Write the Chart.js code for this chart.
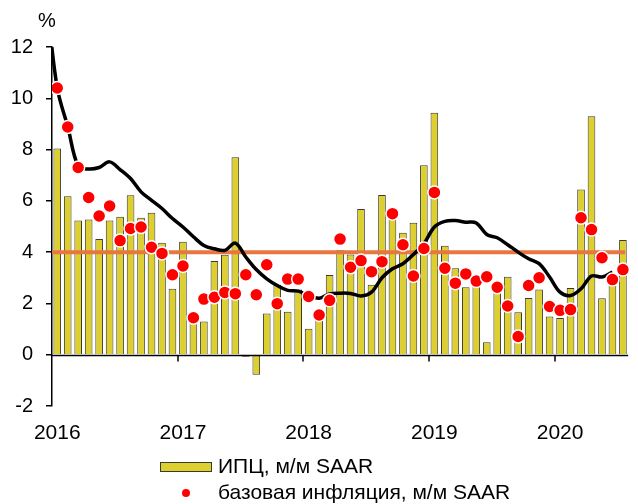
<!DOCTYPE html>
<html>
<head>
<meta charset="utf-8">
<script src="https://cdn.jsdelivr.net/npm/chart.js@4/dist/chart.umd.min.js"></script>
<style>
    html, body { margin: 0; padding: 0; background: #fff; }
    #wrap { width: 638px; height: 504px; position: relative; }
</style>
</head>
<body>
<div id="wrap"><canvas id="chart" width="638" height="504"></canvas></div>
<script>
// месяцы: 2015-12 нужен только для начала линии тренда у левого края
const months = [
    '2015-12',
    '2016-01', '2016-02', '2016-03', '2016-04', '2016-05', '2016-06', '2016-07', '2016-08', '2016-09', '2016-10', '2016-11', '2016-12',
    '2017-01', '2017-02', '2017-03', '2017-04', '2017-05', '2017-06', '2017-07', '2017-08', '2017-09', '2017-10', '2017-11', '2017-12',
    '2018-01', '2018-02', '2018-03', '2018-04', '2018-05', '2018-06', '2018-07', '2018-08', '2018-09', '2018-10', '2018-11', '2018-12',
    '2019-01', '2019-02', '2019-03', '2019-04', '2019-05', '2019-06', '2019-07', '2019-08', '2019-09', '2019-10', '2019-11', '2019-12',
    '2020-01', '2020-02', '2020-03', '2020-04', '2020-05', '2020-06', '2020-07'
]

// ИПЦ, м/м SAAR (2016-01 .. 2020-07)
const cpi = [
    8.04, 6.18, 5.23, 5.27, 4.51, 5.23, 5.38, 6.22, 5.34, 5.54, 4.37, 2.57,
    4.41, 1.25, 1.30, 3.65, 3.90, 7.70, -0.08, -0.78, 1.61, 2.73, 1.68, 2.54,
    1.01, 1.75, 3.11, 4.07, 3.91, 5.68, 2.73, 6.23, 5.45, 4.76, 5.15, 7.39,
    9.44, 4.25, 3.37, 2.63, 3.12, 0.49, 2.55, 3.04, 1.66, 2.21, 2.54, 1.49,
    1.43, 2.60, 6.44, 9.30, 2.20, 2.80, 4.47
]

// базовая инфляция, м/м SAAR (2016-01 .. 2020-07)
const core = [
    10.40, 8.88, 7.30, 6.13, 5.41, 5.80, 4.45, 4.92, 4.98, 4.19, 3.95, 3.12,
    3.46, 1.44, 2.17, 2.24, 2.43, 2.38, 3.12, 2.34, 3.51, 1.99, 2.95, 2.95,
    2.27, 1.55, 2.12, 4.51, 3.41, 3.67, 3.24, 3.63, 5.50, 4.29, 3.07, 4.14,
    6.33, 3.37, 2.79, 3.15, 2.87, 3.04, 2.63, 1.90, 0.71, 2.70, 3.00, 1.88,
    1.73, 1.76, 5.34, 4.88, 3.78, 2.93, 3.32
]

// сглаженная линия (2015-12 .. 2020-07)
const trend = [
    13.8,
    10.40, 8.90, 7.35, 7.24, 7.30, 7.52, 7.22, 6.87, 6.35, 6.02, 5.70, 5.31,
    4.98, 4.60, 4.26, 4.13, 4.07, 4.35, 3.81, 3.32, 2.96, 2.70, 2.51, 2.48,
    2.31, 2.20, 2.37, 2.40, 2.39, 2.29, 2.44, 3.00, 3.35, 3.55, 3.91, 4.33,
    4.98, 5.20, 5.23, 5.17, 5.14, 4.69, 4.56, 4.29, 4.00, 3.74, 3.55, 3.03,
    2.44, 2.31, 2.57, 3.07, 3.03, 3.22, null
]

// целевой уровень
const target = 4

const yTicks = { min: -2, max: 12, step: 2 }

const barColor = '#DCCF2F'
const barBorder = '#3a3a30'
const dotColor = '#FF0000'
const targetColor = '#E8763F'
const font = "'Liberation Sans', Arial, sans-serif"

// ось X на нуле, засечки между годами и целевая линия
const overlayPlugin = {
    id: 'overlay',
    afterDatasetDraw(chart, args) {
        if (args.index !== 0) return
        const ctx = chart.ctx
        const area = chart.chartArea
        const xs = chart.scales.x
        const ys = chart.scales.y
        const y0 = Math.round(ys.getPixelForValue(0)) + 0.5
        const half = (xs.getPixelForValue(2) - xs.getPixelForValue(1)) / 2

        ctx.save()
        ctx.strokeStyle = '#000'
        ctx.lineWidth = 1.5
        ctx.beginPath()
        ctx.moveTo(area.left, y0)
        ctx.lineTo(area.right, y0)
        months.forEach((m, i) => {
            if (i > 1 && m.endsWith('-01')) {
                const x = Math.round(xs.getPixelForValue(i) - half)
                ctx.moveTo(x, y0)
                ctx.lineTo(x, y0 + 6)
            }
        })
        ctx.stroke()

        const yt = ys.getPixelForValue(target)
        ctx.strokeStyle = targetColor
        ctx.lineWidth = 4
        ctx.beginPath()
        ctx.moveTo(area.left, yt)
        ctx.lineTo(area.right - 3, yt)
        ctx.stroke()
        ctx.restore()
    },
    afterDraw(chart) {
        const ctx = chart.ctx
        const ds = chart.data.datasets
        ctx.save()
        ctx.fillStyle = '#000'
        ctx.font = '20px ' + font
        ctx.textAlign = 'center'
        ctx.textBaseline = 'middle'
        ctx.fillText('%', 47, 21)

        // легенда
        ctx.font = '21px ' + font
        ctx.textAlign = 'left'
        ctx.fillStyle = barColor
        ctx.fillRect(160, 462, 52, 10)
        ctx.strokeStyle = barBorder
        ctx.lineWidth = 1
        ctx.strokeRect(160.5, 462.5, 51, 9)
        ctx.fillStyle = '#000'
        ctx.fillText(ds[0].label, 218, 467)

        ctx.fillStyle = dotColor
        ctx.beginPath()
        ctx.arc(186, 493, 4, 0, Math.PI * 2)
        ctx.fill()
        ctx.fillStyle = '#000'
        ctx.fillText(ds[2].label, 218, 493)
        ctx.restore()
    }
}

const ctx = document.getElementById('chart').getContext('2d')
new Chart(ctx, {
    data: {
        labels: months,
        datasets: [
            {
                type: 'bar',
                label: 'ИПЦ, м/м SAAR',
                data: [null, ...cpi],
                backgroundColor: barColor,
                borderColor: barBorder,
                borderWidth: 1,
                categoryPercentage: 1,
                barPercentage: 0.73,
                order: 3
            },
            {
                type: 'line',
                label: 'тренд',
                data: trend,
                borderColor: '#000',
                borderWidth: 3.5,
                pointRadius: 0,
                tension: 0.35,
                fill: false,
                order: 2
            },
            {
                type: 'line',
                label: 'базовая инфляция, м/м SAAR',
                data: [null, ...core],
                showLine: false,
                pointStyle: 'circle',
                pointRadius: 6.5,
                pointBackgroundColor: dotColor,
                pointBorderColor: '#fff',
                pointBorderWidth: 1.5,
                order: 1
            }
        ]
    },
    options: {
        responsive: false,
        animation: false,
        layout: { padding: { top: 47, right: 1, left: 0, bottom: 0 } },
        plugins: {
            legend: { display: false },
            tooltip: { enabled: false }
        },
        scales: {
            x: {
                type: 'category',
                min: '2016-01',
                offset: true,
                grid: { display: false, drawTicks: false },
                border: { display: false },
                ticks: {
                    autoSkip: false,
                    maxRotation: 0,
                    padding: 15,
                    color: '#000',
                    font: { family: font, size: 21 },
                    callback: function (value) {
                        const l = this.getLabelForValue(value)
                        return l.endsWith('-01') ? l.slice(0, 4) : ''
                    }
                },
                afterFit: s => { s.height = 98 }
            },
            y: {
                min: yTicks.min,
                max: yTicks.max,
                ticks: {
                    stepSize: yTicks.step,
                    padding: 13,
                    color: '#000',
                    font: { family: font, size: 20 }
                },
                grid: { drawOnChartArea: false, tickLength: 6, color: '#000', lineWidth: 1.5 },
                border: { display: true, color: '#000', width: 1.5 },
                afterFit: s => { s.width = 52 }
            }
        }
    },
    plugins: [overlayPlugin]
})
</script>
</body>
</html>
